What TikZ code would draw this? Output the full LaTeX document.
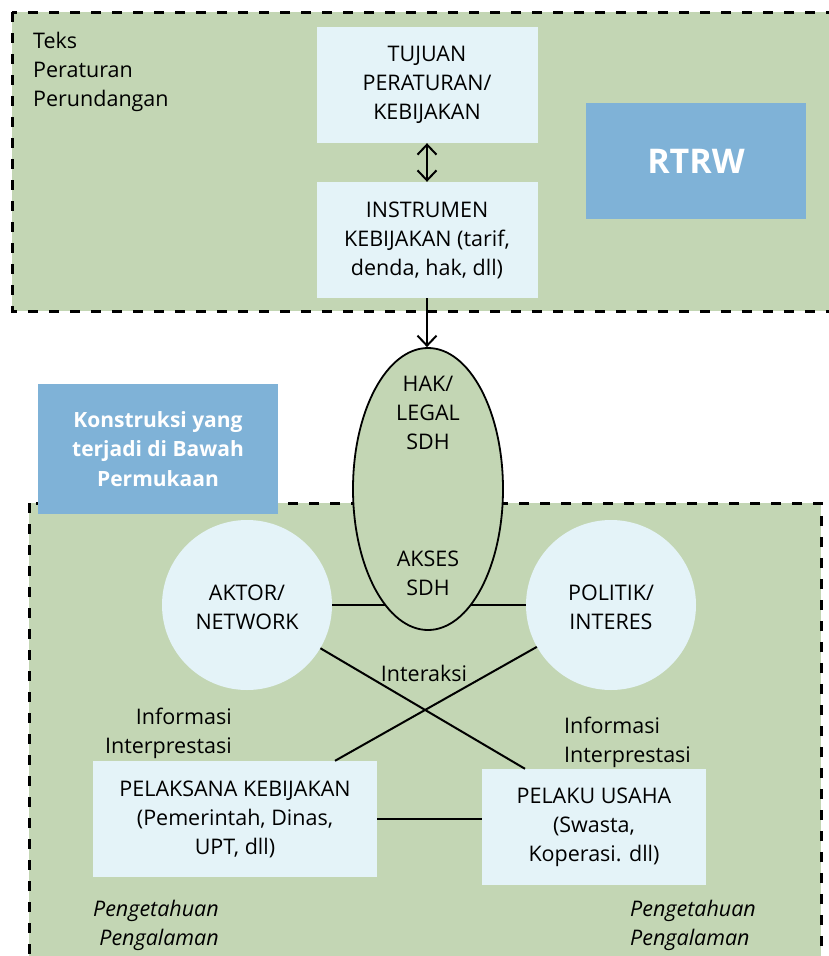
\documentclass[tikz,border=0pt]{standalone}
\usepackage{fontspec}
\setmainfont{Open Sans}
\usetikzlibrary{shapes.geometric,arrows.meta}
\definecolor{bggreen}{HTML}{C3D6B4}
\definecolor{lightbox}{HTML}{E4F3F8}
\definecolor{bluebox}{HTML}{7FB2D7}
\tikzset{
  txt/.style={font=\fontsize{21.5}{29}\selectfont, inner sep=0pt, align=center},
  itxt/.style={font=\fontsize{21.5}{29}\selectfont\itshape, inner sep=0pt},
  lbox/.style={rectangle, fill=lightbox, inner sep=0pt, txt},
  bbox/.style={rectangle, fill=bluebox, text=white, inner sep=0pt, align=center},
  region/.style={fill=bggreen, draw=black, line width=3pt, dash pattern=on 10pt off 11pt},
  conn/.style={draw=black, line width=2pt},
  vtip/.style={-{Straight Barb[length=10pt,width=19pt]}},
  vtips/.style={{Straight Barb[length=10pt,width=19pt]}-{Straight Barb[length=10pt,width=19pt]}}
}
\begin{document}
\begin{tikzpicture}[x=1pt,y=-1pt]
\useasboundingbox (0,0) rectangle (829,956);
% regions
\path[region] (12,12) rectangle (860,311);
\path[region] (29,503) rectangle (821,990);
% top region nodes
\node[txt, anchor=west, align=left] (teks) at (33,72) {Teks\\Peraturan\\Perundangan};
\node[lbox, minimum width=221pt, minimum height=116pt] (tujuan) at (427,85) {TUJUAN\\PERATURAN/\\KEBIJAKAN};
\node[lbox, minimum width=221pt, minimum height=116pt] (instr) at (427,240) {INSTRUMEN\\KEBIJAKAN (tarif,\\denda, hak, dll)};
\node[bbox, minimum width=220pt, minimum height=116pt, font=\fontsize{34}{40}\selectfont\bfseries] (rtrw) at (696,161) {RTRW};
% konstruksi
\node[bbox, minimum width=240pt, minimum height=130pt, font=\fontsize{21}{29.5}\selectfont\bfseries] (konstruksi) at (158,449) {Konstruksi yang\\terjadi di Bawah\\Permukaan};
% circles
\node[circle, fill=lightbox, minimum size=170pt, inner sep=0pt] (aktor) at (247,605) {};
\node[circle, fill=lightbox, minimum size=170pt, inner sep=0pt] (politik) at (611,605) {};
\node[txt] (aktortxt) at (247,607) {AKTOR/\\NETWORK};
\node[txt] (politiktxt) at (611,607) {POLITIK/\\INTERES};
% bottom boxes
\node[lbox, minimum width=284pt, minimum height=116pt] (pelaksana) at (235,819) {PELAKSANA KEBIJAKAN\\(Pemerintah, Dinas,\\UPT, dll)};
\node[lbox, minimum width=224pt, minimum height=116pt] (pelaku) at (594,827) {PELAKU USAHA\\(Swasta,\\Koperasi. dll)};
% connectors
\path[conn] (aktor.east) -- (politik.west);
\path[conn] (aktor) -- ([xshift=-69pt]pelaku.north);
\path[conn] (politik) -- ([xshift=100pt]pelaksana.north);
\path[conn] (pelaksana.east) -- (pelaksana.east -| pelaku.west);
% ellipse
\node[ellipse, fill=bggreen, draw=black, line width=1.8pt, minimum width=150pt, minimum height=282pt, inner sep=0pt] (hak) at (428,489) {};
\node[txt] (haktxt) at (428,413) {HAK/\\LEGAL\\SDH};
\node[txt] (akses) at (428,573) {AKSES\\SDH};
% arrows
\draw[conn, vtips] (tujuan.south) -- (instr.north);
\draw[conn, vtip] (instr.south) -- (instr.south |- hak.north);
% labels
\node[txt] (interaksi) at (424,673) {Interaksi};
\node[txt, anchor=east, align=right] (infoL) at (232,733) {Informasi\\Interprestasi};
\node[txt, anchor=west, align=left] (infoR) at (564,742) {Informasi\\Interprestasi};
\node[itxt, anchor=east, align=right] (pengL) at (219,925) {Pengetahuan\\Pengalaman};
\node[itxt, anchor=west, align=left] (pengR) at (630,925) {Pengetahuan\\Pengalaman};
\end{tikzpicture}
\end{document}
